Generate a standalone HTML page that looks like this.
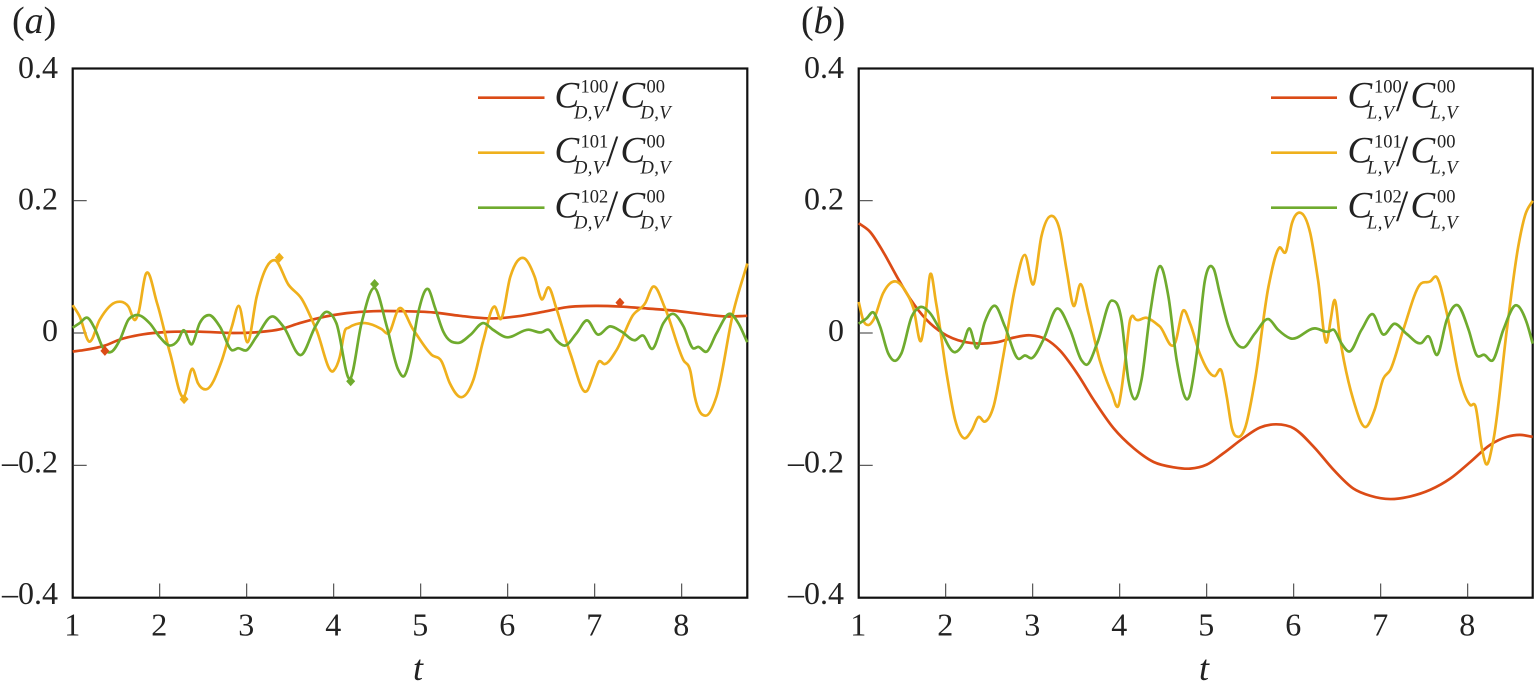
<!DOCTYPE html>
<html lang="en">
<head>
<meta charset="utf-8">
<title>Force coefficient ratios</title>
<style>
html,body{margin:0;padding:0;background:#fff;}
svg{display:block;font-family:"Liberation Serif",serif;fill:#222;}
.lg{font-size:37px;font-style:italic;}
.sl{font-size:44px;}
.sup{font-size:18.5px;font-style:normal;}
.sub{font-size:18.5px;font-style:italic;letter-spacing:.4px;}
.tick{font-size:32px;}
.ital{font-size:36px;font-style:italic;}
.up{font-size:38px;}
.axis{fill:none;stroke:#111;stroke-width:2.2;}
</style>
</head>
<body>
<svg id="fig" xmlns="http://www.w3.org/2000/svg" width="1534" height="693" viewBox="0 0 1534 693">
  <g id="panel-a">
    <text x="12" y="33" class="up">(<tspan font-style="italic">a</tspan>)</text>
    <text x="413" y="680" class="ital">t</text>
    <rect x="72.7" y="68.5" width="674.6" height="529.2" class="axis"/>
    <g>
      <g>
        <line x1="478" x2="544.5" y1="97.7" y2="97.7" stroke="#DB4B16" stroke-width="2.6"/>
        <text x="554.5" y="107.7" class="lg">C</text><text x="580.5" y="92.5" class="sup">100</text><text x="574" y="118.5" class="sub">D,V</text><text x="606" y="110.5" class="sl">/</text><text x="620.5" y="107.7" class="lg">C</text><text x="646.5" y="92.5" class="sup">00</text><text x="640.5" y="118.5" class="sub">D,V</text>
      </g>
      <g transform="translate(0,55)">
        <line x1="478" x2="544.5" y1="97.7" y2="97.7" stroke="#EFB01C" stroke-width="2.6"/>
        <text x="554.5" y="107.7" class="lg">C</text><text x="580.5" y="92.5" class="sup">101</text><text x="574" y="118.5" class="sub">D,V</text><text x="606" y="110.5" class="sl">/</text><text x="620.5" y="107.7" class="lg">C</text><text x="646.5" y="92.5" class="sup">00</text><text x="640.5" y="118.5" class="sub">D,V</text>
      </g>
      <g transform="translate(0,110)">
        <line x1="478" x2="544.5" y1="97.7" y2="97.7" stroke="#6FAB2E" stroke-width="2.6"/>
        <text x="554.5" y="107.7" class="lg">C</text><text x="580.5" y="92.5" class="sup">102</text><text x="574" y="118.5" class="sub">D,V</text><text x="606" y="110.5" class="sl">/</text><text x="620.5" y="107.7" class="lg">C</text><text x="646.5" y="92.5" class="sup">00</text><text x="640.5" y="118.5" class="sub">D,V</text>
      </g>
    </g>
  </g>
  <g id="panel-b">
    <text x="801" y="33" class="up">(<tspan font-style="italic">b</tspan>)</text>
    <text x="1199" y="680" class="ital">t</text>
    <rect x="858.7" y="68.5" width="674" height="529.2" class="axis"/>
    <g>
      <g>
        <line x1="1271" x2="1337" y1="97.7" y2="97.7" stroke="#DB4B16" stroke-width="2.6"/>
        <text x="1347.5" y="107.7" class="lg">C</text><text x="1374" y="92.5" class="sup">100</text><text x="1367" y="118.5" class="sub">L,V</text><text x="1396" y="110.5" class="sl">/</text><text x="1410.5" y="107.7" class="lg">C</text><text x="1437" y="92.5" class="sup">00</text><text x="1430.5" y="118.5" class="sub">L,V</text>
      </g>
      <g transform="translate(0,55)">
        <line x1="1271" x2="1337" y1="97.7" y2="97.7" stroke="#EFB01C" stroke-width="2.6"/>
        <text x="1347.5" y="107.7" class="lg">C</text><text x="1374" y="92.5" class="sup">101</text><text x="1367" y="118.5" class="sub">L,V</text><text x="1396" y="110.5" class="sl">/</text><text x="1410.5" y="107.7" class="lg">C</text><text x="1437" y="92.5" class="sup">00</text><text x="1430.5" y="118.5" class="sub">L,V</text>
      </g>
      <g transform="translate(0,110)">
        <line x1="1271" x2="1337" y1="97.7" y2="97.7" stroke="#6FAB2E" stroke-width="2.6"/>
        <text x="1347.5" y="107.7" class="lg">C</text><text x="1374" y="92.5" class="sup">102</text><text x="1367" y="118.5" class="sub">L,V</text><text x="1396" y="110.5" class="sl">/</text><text x="1410.5" y="107.7" class="lg">C</text><text x="1437" y="92.5" class="sup">00</text><text x="1430.5" y="118.5" class="sub">L,V</text>
      </g>
    </g>
  </g>
</svg>
<script>
const xTicks = [1,2,3,4,5,6,7,8];
const yTicks = [0.4,0.2,0,-0.2,-0.4];
const yTickLabels = ["0.4","0.2","0","–0.2","–0.4"];

const dragC100 = [[1,-.028],[1.12,-.026],[1.37,-.019],[1.54,-.010],[1.81,-.002],[2.08,.0015],[2.46,.002],[2.85,0],[3.15,.0015],[3.38,.0055],[3.61,.015],[3.84,.023],[4.15,.030],[4.46,.033],[4.76,.033],[5.15,.031],[5.45,.026],[5.83,.022],[6.10,.025],[6.41,.032],[6.68,.039],[7.02,.041],[7.29,.040],[7.60,.037],[7.90,.034],[8.21,.029],[8.52,.025],[8.754,.026]];
const dragC101 = [[1,.042],[1.08,.025],[1.19,-.013],[1.31,.020],[1.51,.047],[1.64,.040],[1.72,.020],[1.755,.030],[1.84,.089],[1.97,.045],[2.12,-.031],[2.28,-.096],[2.375,-.054],[2.44,-.076],[2.54,-.085],[2.71,-.043],[2.83,.010],[2.91,.041],[3.01,-.014],[3.115,.055],[3.23,.100],[3.325,.110],[3.48,.073],[3.63,.052],[3.80,.005],[4.00,-.057],[4.07,-.036],[4.13,.004],[4.17,.008],[4.36,.015],[4.55,.006],[4.63,-.0005],[4.75,.037],[4.915,.005],[5.126,-.033],[5.24,-.043],[5.335,-.076],[5.47,-.097],[5.605,-.071],[5.72,-.011],[5.85,.040],[5.92,.021],[6.03,.085],[6.19,.113],[6.31,.085],[6.39,.051],[6.47,.069],[6.56,.037],[6.72,-.031],[6.915,-.087],[6.98,-.066],[7.05,-.043],[7.11,-.047],[7.25,-.026],[7.44,.027],[7.58,.045],[7.67,.070],[7.81,.037],[8.02,-.041],[8.10,-.058],[8.15,-.096],[8.275,-.125],[8.40,-.096],[8.59,.030],[8.754,.105]];
const dragC102 = [[1,.008],[1.08,.015],[1.17,.023],[1.26,.005],[1.35,-.023],[1.45,-.028],[1.54,-.011],[1.64,.020],[1.72,.027],[1.89,.014],[2.00,-.006],[2.12,-.019],[2.21,-.011],[2.27,.004],[2.37,-.017],[2.46,.015],[2.57,.027],[2.69,.010],[2.83,-.026],[2.90,-.023],[3.00,-.026],[3.11,-.006],[3.30,.025],[3.42,.010],[3.63,-.033],[3.79,.010],[3.92,.032],[4.03,.015],[4.19,-.069],[4.32,.015],[4.47,.068],[4.61,.010],[4.74,-.055],[4.81,-.065],[4.875,-.041],[4.97,.030],[5.09,.066],[5.16,.040],[5.26,.002],[5.43,-.015],[5.57,-.003],[5.72,.015],[5.83,.005],[5.97,-.006],[6.24,.005],[6.39,.001],[6.47,.005],[6.56,-.011],[6.66,-.019],[6.79,-.0005],[6.915,.019],[7.03,-.002],[7.175,.010],[7.31,.002],[7.46,-.011],[7.56,-.004],[7.66,-.024],[7.79,.015],[7.90,.029],[8.02,.010],[8.13,-.023],[8.19,-.021],[8.29,-.028],[8.40,-.0005],[8.56,.029],[8.65,.015],[8.754,-.014]];

const liftC100 = [[1,.166],[1.13,.153],[1.28,.123],[1.44,.085],[1.59,.052],[1.78,.020],[1.97,-.0005],[2.20,-.013],[2.39,-.016],[2.59,-.014],[2.78,-.007],[2.97,-.0035],[3.16,-.010],[3.31,-.026],[3.51,-.061],[3.70,-.101],[3.93,-.144],[4.16,-.174],[4.39,-.195],[4.62,-.203],[4.81,-.205],[5.0,-.199],[5.19,-.182],[5.42,-.159],[5.61,-.143],[5.80,-.138],[6.0,-.144],[6.23,-.172],[6.46,-.207],[6.685,-.235],[6.88,-.246],[7.11,-.251],[7.34,-.247],[7.57,-.237],[7.80,-.220],[8.03,-.195],[8.26,-.169],[8.45,-.157],[8.60,-.154],[8.747,-.157]];
const liftC101 = [[1,.047],[1.05,.020],[1.11,.012],[1.17,.020],[1.28,.060],[1.42,.078],[1.53,.065],[1.63,.037],[1.72,-.011],[1.77,.030],[1.82,.088],[1.89,.045],[2.01,-.061],[2.11,-.132],[2.21,-.159],[2.30,-.147],[2.375,-.127],[2.45,-.134],[2.55,-.111],[2.66,-.036],[2.80,.070],[2.91,.118],[3.01,.074],[3.10,.146],[3.21,.177],[3.31,.156],[3.39,.095],[3.47,.041],[3.55,.074],[3.64,.030],[3.77,-.041],[3.91,-.091],[3.985,-.110],[4.06,-.046],[4.12,.020],[4.145,.026],[4.18,.021],[4.31,.023],[4.46,.010],[4.64,-.014],[4.73,.034],[4.81,.014],[4.92,-.031],[5.095,-.065],[5.17,-.057],[5.23,-.096],[5.29,-.144],[5.36,-.157],[5.44,-.144],[5.555,-.071],[5.71,.070],[5.835,.129],[5.91,.123],[5.98,.166],[6.07,.182],[6.19,.151],[6.28,.080],[6.38,-.014],[6.425,.020],[6.47,.050],[6.53,-.006],[6.685,-.101],[6.83,-.142],[6.93,-.116],[7.03,-.069],[7.11,-.056],[7.26,.005],[7.45,.073],[7.57,.078],[7.64,.085],[7.76,.030],[7.91,-.071],[8.03,-.109],[8.09,-.111],[8.16,-.172],[8.21,-.198],[8.295,-.162],[8.45,.005],[8.58,.130],[8.66,.178],[8.747,.200]];
const liftC102 = [[1,.014],[1.09,.022],[1.17,.031],[1.245,.010],[1.34,-.031],[1.42,-.042],[1.49,-.031],[1.61,.025],[1.70,.039],[1.82,.030],[1.935,.005],[2.11,-.029],[2.20,-.016],[2.27,.007],[2.36,-.023],[2.45,.017],[2.57,.041],[2.68,.010],[2.835,-.039],[2.91,-.034],[2.99,-.038],[3.12,-.011],[3.28,.037],[3.43,.005],[3.56,-.041],[3.62,-.048],[3.74,-.016],[3.91,.049],[4.02,.020],[4.10,-.071],[4.17,-.100],[4.25,-.071],[4.35,.030],[4.46,.101],[4.56,.055],[4.655,-.041],[4.80,-.096],[4.885,-.031],[4.98,.080],[5.08,.097],[5.15,.060],[5.25,.010],[5.42,-.022],[5.555,-.0005],[5.71,.021],[5.82,.005],[5.96,-.008],[6.245,.007],[6.40,.002],[6.46,.005],[6.55,-.016],[6.64,-.028],[6.78,.005],[6.915,.028],[7.02,-.0015],[7.16,.014],[7.30,-.0015],[7.47,-.015],[7.55,-.005],[7.65,-.033],[7.76,.020],[7.885,.042],[8.01,.005],[8.10,-.033],[8.19,-.033],[8.29,-.041],[8.41,.005],[8.555,.042],[8.68,.015],[8.747,-.016]];

const markersDragC100 = [[1.37,-.027],[7.29,.046]];
const markersDragC101 = [[2.28,-.100],[3.375,.114]];
const markersDragC102 = [[4.195,-.073],[4.47,.074]];

const NS = 'http://www.w3.org/2000/svg';
const COLORS = {c100:'#DB4B16', c101:'#EFB01C', c102:'#6FAB2E'};

function xScale(originX, t){ return originX + (t - 1) * 87; }
function yScale(v){ return 333 - v * 661.5; }
function yLabelBase(v){ return 341 - v * 657.5; }

function curvePath(originX, pts){
  const n = pts.length;
  const slope = i => {
    if (i === 0) return (pts[1][1] - pts[0][1]) / (pts[1][0] - pts[0][0]);
    if (i === n - 1) return (pts[n-1][1] - pts[n-2][1]) / (pts[n-1][0] - pts[n-2][0]);
    const h0 = pts[i][0] - pts[i-1][0], h1 = pts[i+1][0] - pts[i][0];
    const d0 = (pts[i][1] - pts[i-1][1]) / h0, d1 = (pts[i+1][1] - pts[i][1]) / h1;
    return (d0 * h1 + d1 * h0) / (h0 + h1);
  };
  let d = 'M' + xScale(originX, pts[0][0]).toFixed(2) + ' ' + yScale(pts[0][1]).toFixed(2);
  for (let i = 0; i < n - 1; i++) {
    const h = pts[i + 1][0] - pts[i][0];
    const c1t = pts[i][0] + h / 3, c1v = pts[i][1] + slope(i) * h / 3;
    const c2t = pts[i + 1][0] - h / 3, c2v = pts[i + 1][1] - slope(i + 1) * h / 3;
    d += 'C' + xScale(originX, c1t).toFixed(2) + ' ' + yScale(c1v).toFixed(2) + ' ' +
         xScale(originX, c2t).toFixed(2) + ' ' + yScale(c2v).toFixed(2) + ' ' +
         xScale(originX, pts[i + 1][0]).toFixed(2) + ' ' + yScale(pts[i + 1][1]).toFixed(2);
  }
  return d;
}

function drawAxes(parent, originX){
  xTicks.forEach(t => {
    const px = xScale(originX, t);
    if (t > 1) {
      const tk = document.createElementNS(NS, 'line');
      
      
      tk.setAttribute('x1', px);
      tk.setAttribute('x2', px);
      tk.setAttribute('y1', 583.5);
      tk.setAttribute('y2', 597.7);
      tk.setAttribute('stroke', '#333');
      tk.setAttribute('stroke-width', '1');
      parent.appendChild(tk);
    }
    const lb = document.createElementNS(NS, 'text');
    
    
    lb.setAttribute('x', px - 0.5);
    lb.setAttribute('y', 635.7);
    lb.setAttribute('text-anchor', 'middle');
    lb.setAttribute('class', 'tick');
    lb.textContent = String(t);
    parent.appendChild(lb);
  });
  yTicks.forEach((v, i) => {
    const py = yScale(v);
    if (i > 0 && i < yTicks.length - 1) {
      const tk = document.createElementNS(NS, 'line');
      
      
      tk.setAttribute('x1', originX);
      tk.setAttribute('x2', originX + 14);
      tk.setAttribute('y1', py);
      tk.setAttribute('y2', py);
      tk.setAttribute('stroke', '#333');
      tk.setAttribute('stroke-width', '1');
      parent.appendChild(tk);
    }
    const lb = document.createElementNS(NS, 'text');
    
    
    lb.setAttribute('x', originX - 14.7);
    lb.setAttribute('y', yLabelBase(v));
    lb.setAttribute('text-anchor', 'end');
    lb.setAttribute('class', 'tick');
    lb.textContent = yTickLabels[i];
    parent.appendChild(lb);
  });
}

function drawSeries(parent, originX, pts, color, label){
  const p = document.createElementNS(NS, 'path');
  
  
  p.setAttribute('d', curvePath(originX, pts));
  p.setAttribute('fill', 'none');
  p.setAttribute('stroke', color);
  p.setAttribute('stroke-width', '2.7');
  p.setAttribute('stroke-linejoin', 'round');
  parent.appendChild(p);
}

function drawMarkers(parent, originX, pts, color){
  pts.forEach(m => {
    const cx = xScale(originX, m[0]), cy = yScale(m[1]);
    const g = document.createElementNS(NS, 'polygon');
    
    
    g.setAttribute('points', [[cx, cy - 5], [cx + 4.5, cy], [cx, cy + 5], [cx - 4.5, cy]].map(q => q.join(',')).join(' '));
    g.setAttribute('fill', color);
    parent.appendChild(g);
  });
}

const panelA = document.getElementById('panel-a');
const panelB = document.getElementById('panel-b');
drawAxes(panelA, 72.7);
drawAxes(panelB, 858.7);
drawSeries(panelA, 72.7, dragC100, COLORS.c100, 'series-drag-100');
drawSeries(panelA, 72.7, dragC101, COLORS.c101, 'series-drag-101');
drawSeries(panelA, 72.7, dragC102, COLORS.c102, 'series-drag-102');
drawMarkers(panelA, 72.7, markersDragC100, COLORS.c100);
drawMarkers(panelA, 72.7, markersDragC101, COLORS.c101);
drawMarkers(panelA, 72.7, markersDragC102, COLORS.c102);
drawSeries(panelB, 858.7, liftC100, COLORS.c100, 'series-lift-100');
drawSeries(panelB, 858.7, liftC101, COLORS.c101, 'series-lift-101');
drawSeries(panelB, 858.7, liftC102, COLORS.c102, 'series-lift-102');
</script>
</body>
</html>
